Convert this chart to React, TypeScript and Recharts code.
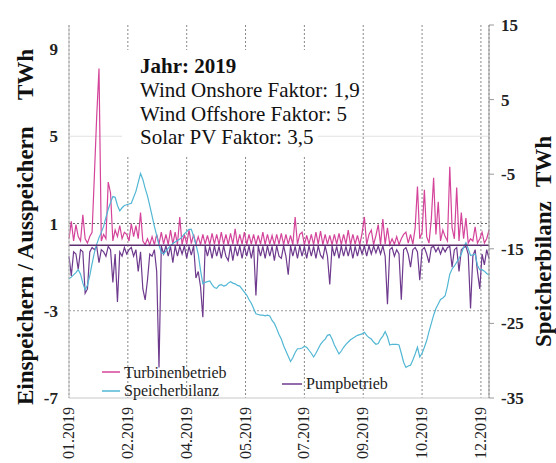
import React from "react";
import { LineChart, Line, XAxis, YAxis, CartesianGrid, ReferenceLine } from "recharts";

// Tagesweise Werte (jeder zweite Tag), TWh
const turbinenbetrieb = [
  0.3, 1.1, 0.2, 0.95, 0.4, 0.2, 1.4, 0.3, 0.1, 0.4,
  0.6, 3.2, 5.9, 8.1, 0.2, 0.5, 0.3, 2.9, 2.4, 0.2,
  0.7, 0.4, 0.9, 0.3, 0.6, 0.5, 0.2, 1.0, 0.4, 0.9,
  0.3, 1.5, 0.2, 0.03, 0.3, 0.02, 0.4, 0.03, 0.5, 0.05,
  0.6, 0.05, 0.5, 0.03, 0.7, 0.05, 0.6, 0.03, 1.3, 0.03,
  0.5, 0.05, 0.7, 0.08, 0.5, 0.03, 0.4, 0.03, 0.5, 0.05,
  0.45, 0.03, 0.55, 0.05, 0.5, 0.03, 0.6, 0.05, 0.5, 0.03,
  0.55, 0.05, 0.75, 0.03, 0.5, 0.05, 0.6, 0.03, 0.5, 0.05,
  0.5, 0.03, 0.45, 0.05, 0.6, 0.03, 0.5, 0.05, 0.45, 0.03,
  0.5, 0.05, 0.55, 0.03, 0.5, 0.05, 0.45, 0.03, 1.3, 0.05,
  0.5, 0.6, 0.03, 0.45, 0.05, 0.5, 0.03, 0.6, 0.05, 0.65,
  0.03, 0.5, 0.05, 0.45, 0.03, 0.5, 0.05, 0.55, 0.03, 0.5,
  0.05, 0.7, 0.03, 0.5, 0.05, 0.45, 0.03, 0.55, 1.3, 0.03,
  0.5, 0.7, 0.03, 0.45, 0.95, 0.03, 1.2, 0.05, 0.8, 0.03,
  0.3, 0.05, 0.4, 0.03, 0.3, 0.5, 0.6, 0.1, 0.5, 0.05,
  0.8, 2.7, 0.3, 0.6, 2.55, 0.4, 0.1, 1.2, 3.1, 0.5,
  2.0, 0.2, 0.7, 0.4, 0.2, 3.6, 0.8, 0.3, 2.65, 0.2,
  1.5, 0.3, 1.25, 0.1, 0.3, 0.2, 0.85, 0.1, 0.3, 0.6,
  0.1, 0.3, 0.7,
];

const pumpbetrieb = [
  -0.5, -1.4, -0.3, -0.4, -1.1, -0.2, -0.3, -2.2, -2.0, -0.3,
  -0.1, -0.2, -0.05, -0.8, -0.2, -0.3, -0.5, -0.05, -0.2, -1.7,
  -0.4, -2.6, -0.3, -0.5, -0.1, -0.4, -0.2, -0.1, -0.5, -0.2,
  -1.2, -0.3, -2.0, -2.5, -1.6, -0.4, -0.5, -0.2, -1.2, -5.6,
  -0.03, -0.4, -0.03, -0.5, -0.05, -0.8, -0.03, -0.5, -0.05, -0.4,
  -0.03, -0.6, -0.05, -0.45, -0.03, -1.5, -1.2, -1.9, -3.3, -0.03,
  -0.5, -0.05, -0.6, -0.03, -0.5, -0.05, -0.6, -0.03, -0.5, -0.7,
  -0.03, -0.7, -0.05, -0.5, -0.03, -0.6, -0.05, -0.5, -0.03, -0.6,
  -0.05, -2.3, -0.03, -0.5, -0.05, -0.6, -0.03, -0.5, -0.05, -0.7,
  -0.03, -0.5, -0.6, -0.03, -0.5, -1.35, -0.03, -0.5, -0.05, -0.6,
  -0.03, -0.5, -0.05, -0.6, -0.03, -0.5, -0.05, -0.6, -0.03, -0.45,
  -0.6, -0.03, -0.5, -1.8, -0.03, -0.5, -0.05, -0.6, -0.03, -0.5,
  -0.05, -0.5, -0.03, -0.6, -0.05, -0.5, -0.03, -0.4, -0.03, -0.5,
  -0.03, -0.4, -0.03, -0.35, -0.03, -0.4, -0.03, -0.5, -2.7, -0.2,
  -0.1, -0.5, -0.2, -0.4, -2.5, -0.2, -0.1, -0.4, -1.0, -0.2,
  -0.1, -0.3, -1.6, -0.2, -0.1, -0.4, -0.8, -0.1, -0.05, -0.3,
  -0.1, -0.4, -0.1, -0.3, -0.1, -0.05, -1.0, -0.2, -0.1, -1.2,
  -0.2, -0.1, -0.05, -0.4, -2.9, -0.5, -0.2, -1.2, -2.0, -0.4,
  -0.9, -0.2, -0.6,
];

const speicherbilanz = [
  -19.0, -18.8, -18.5, -18.2, -17.8, -18.4, -19.6, -20.5, -19.9, -18.6,
  -17.0, -15.5, -14.4, -13.5, -12.8, -12.0, -10.8, -9.7, -8.8, -8.0,
  -8.1, -9.2, -9.9, -9.5, -9.2, -9.1, -9.0, -8.9, -8.1, -7.3,
  -6.1, -4.9, -5.7, -6.9, -7.9, -9.2, -10.6, -12.0, -13.2, -14.5,
  -15.5, -15.7, -15.3, -14.9, -14.6, -14.3, -14.1, -13.9, -13.7, -13.4,
  -13.0, -12.7, -12.4, -12.4, -13.3, -14.4, -15.7, -17.9, -19.7, -19.5,
  -19.4, -19.3, -19.8, -20.2, -20.3, -19.9, -19.8, -20.0, -19.9, -19.6,
  -19.4, -19.6, -19.7, -19.9, -20.0, -20.4, -20.8, -21.2, -21.8, -22.3,
  -23.0, -23.7, -23.8, -23.9, -23.9, -24.0, -23.9, -24.0, -24.6, -25.0,
  -25.7, -26.5, -27.1, -28.0, -28.7, -29.4, -30.1, -29.6, -28.9, -28.4,
  -28.4, -28.3, -28.1, -28.2, -28.6, -29.0, -29.5, -29.0, -28.4, -27.8,
  -27.4, -27.1, -26.6, -26.5, -27.1, -27.9, -28.5, -29.1, -28.7, -28.2,
  -27.8, -27.5, -27.2, -27.0, -26.8, -26.6, -26.5, -26.4, -26.2, -26.6,
  -26.9, -27.1, -27.5, -27.8, -27.7, -27.1, -26.7, -26.1, -26.8, -27.9,
  -27.8, -27.8, -27.8, -27.9, -29.0, -30.2, -30.9, -30.7, -30.6, -29.9,
  -29.1, -28.2, -29.5, -29.0, -28.2, -27.3, -26.1, -25.0, -23.9, -23.0,
  -22.4, -21.8, -21.6, -21.3, -20.0, -18.4, -17.7, -17.3, -16.8, -16.3,
  -15.7, -14.8, -14.2, -15.0, -15.9, -15.8, -15.7, -17.2, -17.8, -17.8,
  -18.0, -18.3, -18.5,
];

const dayStep = 2;
const xTickDays = [0, 51, 102, 153, 204, 255, 306, 357];
const xTickLabels = ["01.2019", "02.2019", "04.2019", "05.2019", "07.2019", "09.2019", "10.2019", "12.2019"];
const leftTicks = [-7, -3, 1, 5, 9];
const rightTicks = [-35, -25, -15, -5, 5, 15];
const infoTitle = "Jahr: 2019";
const infoLines = ["Wind Onshore Faktor: 1,9", "Wind Offshore Faktor: 5", "Solar PV Faktor: 3,5"];

const data = turbinenbetrieb.map((t, i) => ({
  day: i * dayStep,
  turbine: t,
  pump: pumpbetrieb[i],
  speicher: speicherbilanz[i],
}));

const SERIF = '"Liberation Serif", "Times New Roman", serif';
const PINK = "#d4449a";
const PURPLE = "#6e3a8e";
const BLUE = "#52b7d4";

const XTick = (props: any) => {
  const { x, y, payload } = props;
  const idx = xTickDays.indexOf(payload.value);
  const tx = x + 5;
  const ty = y;
  return (
    <text x={tx} y={ty} transform={`rotate(-90, ${tx}, ${ty})`} textAnchor="end" fontSize={16} fontFamily={SERIF} fill="#222">
      {xTickLabels[idx]}
    </text>
  );
};

export default function App() {
  return (
    <div style={{ position: "absolute", left: 0, top: 0, width: 556, height: 463, background: "#fff" }}>
      <LineChart width={556} height={463} data={data} margin={{ top: 25, right: 0, bottom: 0, left: 0 }}>
        <CartesianGrid horizontal={false} stroke="#888" strokeDasharray="2 2" />
        <ReferenceLine yAxisId="left" y={5} stroke="#e2e2e2" />
        <ReferenceLine yAxisId="left" y={1} stroke="#666" strokeDasharray="2 2" />
        <ReferenceLine yAxisId="left" y={-3} stroke="#999" strokeDasharray="2 2" />
        <XAxis
          dataKey="day"
          type="number"
          domain={[0, 364]}
          ticks={xTickDays}
          tick={<XTick />}
          tickLine={false}
          tickSize={6}
          tickMargin={3}
          height={65}
          axisLine={{ stroke: "#c8c8c8" }}
          interval={0}
        />
        <YAxis
          yAxisId="left"
          domain={[-7, 10.1]}
          allowDataOverflow
          ticks={leftTicks}
          width={69}
          tickLine={false}
          tickSize={9}
          tickMargin={2}
          axisLine={{ stroke: "#bbb" }}
          tick={{ fontSize: 17, fontWeight: "bold", fontFamily: SERIF, fill: "#222" }}
        />
        <YAxis
          yAxisId="right"
          orientation="right"
          domain={[-35, 15]}
          allowDataOverflow
          ticks={rightTicks}
          width={67}
          tickLine={{ stroke: "#999" }}
          tickSize={5}
          tickMargin={7}
          axisLine={{ stroke: "#999" }}
          tick={{ fontSize: 17, fontWeight: "bold", fontFamily: SERIF, fill: "#222" }}
        />
        <Line yAxisId="left" dataKey="turbine" stroke={PINK} strokeWidth={1.2} dot={false} isAnimationActive={false} />
        <Line yAxisId="left" dataKey="pump" stroke={PURPLE} strokeWidth={1.2} dot={false} isAnimationActive={false} />
        <Line yAxisId="right" dataKey="speicher" stroke={BLUE} strokeWidth={1.2} dot={false} isAnimationActive={false} />
        <ReferenceLine yAxisId="left" y={0} stroke="#5a2d6c" strokeWidth={1.5} />
      </LineChart>
      <svg width={556} height={463} style={{ position: "absolute", left: 0, top: 0, pointerEvents: "none" }} fontFamily={SERIF}>
        <rect x={122} y={50} width={196} height={107} fill="#fff" />
        <text x={140} y={73} fontSize={21} fontWeight="bold" fill="#111">{infoTitle}</text>
        {infoLines.map((s, i) => (
          <text key={s} x={140} y={97 + i * 23.5} fontSize={21} fill="#111">{s}</text>
        ))}
        <text x={33} y={405} transform="rotate(-90, 33, 405)" fontSize={23} fontWeight="bold" fill="#111">Einspeichern / Ausspeichern</text>
        <text x={33} y={100} transform="rotate(-90, 33, 100)" fontSize={23} fontWeight="bold" fill="#111">TWh</text>
        <text x={551} y={347} transform="rotate(-90, 551, 347)" fontSize={23} fontWeight="bold" fill="#111">Speicherbilanz</text>
        <text x={551} y={187} transform="rotate(-90, 551, 187)" fontSize={23} fontWeight="bold" fill="#111">TWh</text>
        <line x1={102} y1={372} x2={120} y2={372} stroke={PINK} strokeWidth={1.5} />
        <text x={124} y={378} fontSize={16} fill="#222">Turbinenbetrieb</text>
        <line x1={102} y1={391} x2={120} y2={391} stroke={BLUE} strokeWidth={1.5} />
        <text x={124} y={396} fontSize={16} fill="#222">Speicherbilanz</text>
        <line x1={282} y1={384} x2={302} y2={384} stroke={PURPLE} strokeWidth={1.5} />
        <text x={306} y={389} fontSize={16} fill="#222">Pumpbetrieb</text>
      </svg>
    </div>
  );
}
